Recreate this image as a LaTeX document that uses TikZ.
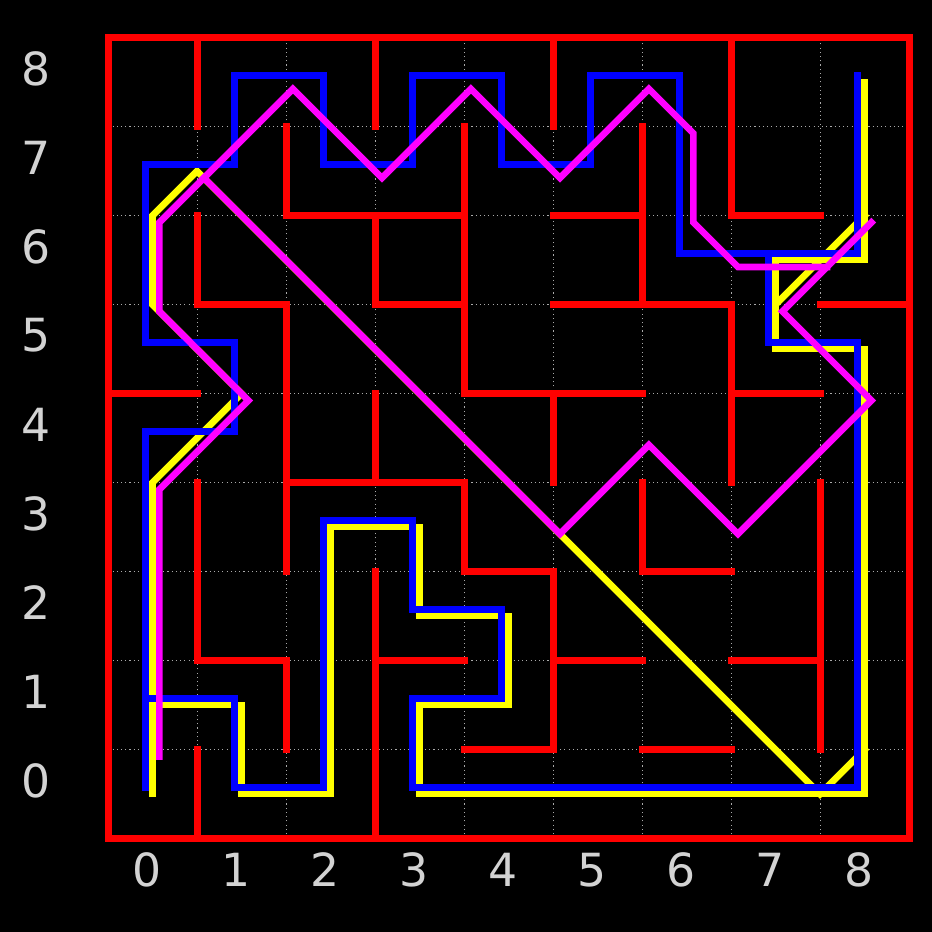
\documentclass[tikz,border=0pt]{standalone}
\usepackage{fontspec}
\setsansfont{DejaVu Sans}
\usepackage{xcolor}
\usepackage{tikz}

\definecolor{labelgray}{RGB}{211,211,211}
\definecolor{gridgray}{RGB}{170,170,170}
\definecolor{wallred}{RGB}{255,0,0}
\definecolor{routeblue}{RGB}{0,0,255}
\definecolor{routeyellow}{RGB}{255,255,0}
\definecolor{routemagenta}{RGB}{255,0,255}

\begin{document}
\begin{tikzpicture}[
    x=1cm, y=1cm,
    wall/.style={draw=wallred, line width=2.14pt, line cap=rect},
    gridline/.style={draw=gridgray, line width=0.35pt, densely dotted},
    route/.style={line width=2.14pt, line cap=rect},
    bluepath/.style={route, draw=routeblue, shift={(0.42,0.574)}},
    yellowpath/.style={route, draw=routeyellow, shift={(0.497,0.497)}},
    magentapath/.style={route, draw=routemagenta, shift={(0.574,0.42)}},
    ticklabel/.style={text=labelgray, inner sep=0pt,
                      font=\sffamily\fontsize{14.6}{17}\selectfont}
]

\useasboundingbox (-1.2169,-1.0528) rectangle (9.2551,9.4191);
\fill[black] (-1.2169,-1.0528) rectangle (9.2551,9.4191);

% dotted grid
\foreach \k in {1,...,8} {
    \draw[gridline] (\k,0) -- (\k,9);
    \draw[gridline] (0,\k) -- (9,\k);
}

% maze walls
\draw[wall] (0,0) rectangle (9,9);
\draw[wall] (1,9) -- (1,8);
\draw[wall] (3,9) -- (3,8);
\draw[wall] (5,9) -- (5,8);
\draw[wall] (7,9) -- (7,7) -- (8,7);
\draw[wall] (2,8) -- (2,7) -- (4,7);
\draw[wall] (4,8) -- (4,5) -- (6,5);
\draw[wall] (5,5) -- (5,4);
\draw[wall] (5,7) -- (6,7);
\draw[wall] (6,8) -- (6,6);
\draw[wall] (5,6) -- (7,6) -- (7,4);
\draw[wall] (1,7) -- (1,6) -- (2,6);
\draw[wall] (3,7) -- (3,6) -- (4,6);
\draw[wall] (8,6) -- (9,6);
\draw[wall] (0,5) -- (1,5);
\draw[wall] (2,6) -- (2,3);
\draw[wall] (2,4) -- (4,4) -- (4,3) -- (5,3);
\draw[wall] (3,5) -- (3,4);
\draw[wall] (1,4) -- (1,2) -- (2,2) -- (2,1);
\draw[wall] (1,1) -- (1,0);
\draw[wall] (3,3) -- (3,0);
\draw[wall] (3,2) -- (4,2);
\draw[wall] (5,3) -- (5,1) -- (4,1);
\draw[wall] (5,2) -- (6,2);
\draw[wall] (6,4) -- (6,3) -- (7,3);
\draw[wall] (6,1) -- (7,1);
\draw[wall] (7,5) -- (8,5);
\draw[wall] (8,4) -- (8,1);
\draw[wall] (7,2) -- (8,2);

% yellow route
\draw[yellowpath] (0,0) -- (0,1) -- (1,1) -- (1,0) -- (2,0) -- (2,3) -- (3,3) -- (3,2)
    -- (4,2) -- (4,1) -- (3,1) -- (3,0) -- (8,0) -- (8,5) -- (7,5) -- (7,6) -- (8,6) -- (8,8);
\draw[yellowpath] (0,1) -- (0,3.5) -- (1,4.5) -- (0,5.5) -- (0,6.5) -- (0.5,7)
    -- (7.5,0) -- (8,0.5);
\draw[yellowpath] (7,5.5) -- (8,6.5);

% blue route
\draw[bluepath] (0,0) -- (0,4) -- (1,4) -- (1,5) -- (0,5) -- (0,7) -- (1,7) -- (1,8)
    -- (2,8) -- (2,7) -- (3,7) -- (3,8) -- (4,8) -- (4,7) -- (5,7) -- (5,8) -- (6,8)
    -- (6,6) -- (8,6) -- (8,8);
\draw[bluepath] (0,1) -- (1,1) -- (1,0) -- (2,0) -- (2,3) -- (3,3) -- (3,2) -- (4,2)
    -- (4,1) -- (3,1) -- (3,0) -- (8,0) -- (8,5) -- (7,5) -- (7,6);

% magenta route
\draw[magentapath] (0,0.5) -- (0,3.5) -- (1,4.5) -- (0,5.5) -- (0,6.5) -- (1.5,8)
    -- (2.5,7) -- (3.5,8) -- (4.5,7) -- (5.5,8) -- (6,7.5) -- (6,6.5) -- (6.5,6) -- (7.5,6);
\draw[magentapath] (0.5,7) -- (4.5,3) -- (5.5,4) -- (6.5,3) -- (8,4.5) -- (7,5.5) -- (8,6.5);

% axis numbers
\foreach \i in {0,...,8} {
    \node[ticklabel] (xt\i) at (\i+0.438,-0.356) {\i};
    \node[ticklabel] (yt\i) at (-0.812,\i+0.649) {\i};
}

\end{tikzpicture}
\end{document}
